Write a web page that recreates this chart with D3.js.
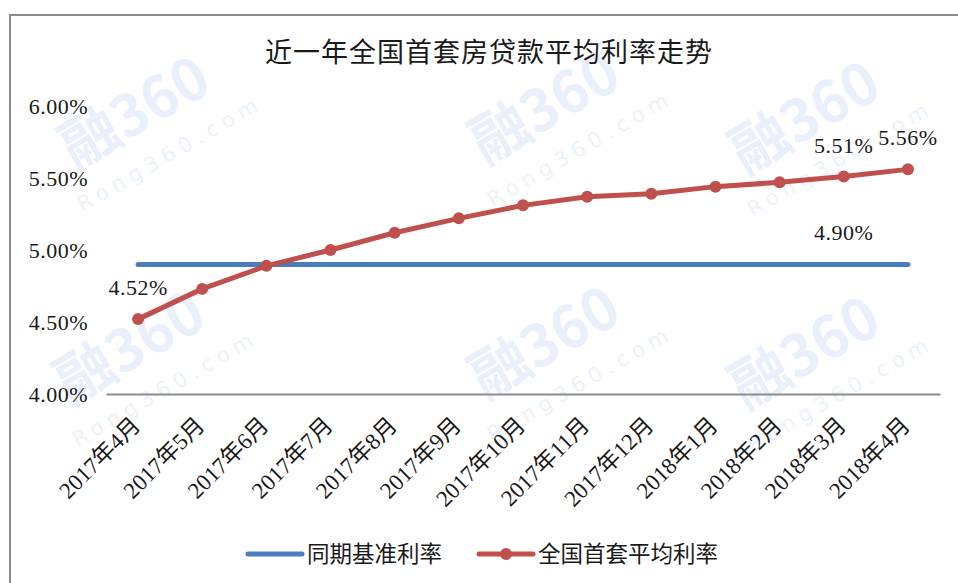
<!DOCTYPE html>
<html>
<head>
  <meta charset='utf-8' />
  <title>近一年全国首套房贷款平均利率走势</title>
  <style>
    html, body { margin: 0; padding: 0; background: #fff; }
    svg { display: block; }
  </style>
</head>
<body>
<div id="chart"></div>
<script src="https://d3js.org/d3.v7.min.js"></script>
<script>
// chart data
const months = ['2017年4月', '2017年5月', '2017年6月', '2017年7月', '2017年8月', '2017年9月',
  '2017年10月', '2017年11月', '2017年12月', '2018年1月', '2018年2月', '2018年3月', '2018年4月']
const baseRate = [4.90, 4.90, 4.90, 4.90, 4.90, 4.90, 4.90, 4.90, 4.90, 4.90, 4.90, 4.90, 4.90]
const avgRate = [4.52, 4.73, 4.89, 5.00, 5.12, 5.22, 5.31, 5.37, 5.39, 5.44, 5.47, 5.51, 5.56]
const yTicks = [4.00, 4.50, 5.00, 5.50, 6.00]
const seriesNames = ['同期基准利率', '全国首套平均利率']

const width = 958
const height = 583
const blue = '#4a7ebb'
const red = '#c0504d'
const numFont = '"Liberation Serif", "Noto Sans CJK SC", serif'
const cjkFont = '"Noto Sans CJK SC", "Liberation Serif", sans-serif'

const svg = d3.select('#chart').append('svg')
  .attr('width', width)
  .attr('height', height)

// faint watermark tiles (kept inside the picture)
const wm = svg.append('g')
const tiles = [[145, 130], [555, 125], [815, 135], [140, 365], [555, 360], [815, 370]]
tiles.forEach(function(t) {
  const g = wm.append('g').attr('transform', 'translate(' + t[0] + ',' + t[1] + ') rotate(-30)')
  g.append('text')
    .attr('x', 0).attr('y', 0)
    .attr('text-anchor', 'middle')
    .attr('font-family', cjkFont)
    .attr('font-weight', 'bold')
    .attr('font-size', 58)
    .attr('fill', '#e9f0fb')
    .text('融360')
  g.append('text')
    .attr('x', 10).attr('y', 40)
    .attr('text-anchor', 'middle')
    .attr('font-family', '"DejaVu Sans", sans-serif')
    .attr('font-size', 21)
    .attr('letter-spacing', 6)
    .attr('fill', '#ebf2fb')
    .text('Rong360.com')
})

// outer frame
svg.append('rect')
  .attr('x', 10).attr('y', 15)
  .attr('width', 960).attr('height', 600)
  .attr('fill', 'none')
  .attr('stroke', '#8a8a8a')
  .attr('stroke-width', 2)

// title
svg.append('text')
  .attr('x', 489).attr('y', 62)
  .attr('text-anchor', 'middle')
  .attr('font-family', cjkFont)
  .attr('font-size', 27)
  .attr('letter-spacing', 1)
  .attr('fill', '#1a1a1a')
  .text('近一年全国首套房贷款平均利率走势')

const x = d3.scaleBand().domain(months).range([106, 940])
const y = d3.scaleLinear().domain([4, 6]).range([394, 106])
const cx = d => x(d) + x.bandwidth() / 2

// y axis (labels only)
const yAxis = svg.append('g')
  .attr('transform', 'translate(106,0)')
  .call(d3.axisLeft(y).tickValues(yTicks).tickSize(0).tickPadding(18)
    .tickFormat(d => d.toFixed(2) + '%'))
yAxis.select('.domain').remove()
yAxis.selectAll('text')
  .attr('font-family', numFont)
  .attr('font-size', 22)
  .attr('letter-spacing', 0.5)
  .attr('fill', '#1a1a1a')

// x axis
const xAxis = svg.append('g')
  .attr('transform', 'translate(0,394)')
  .call(d3.axisBottom(x).tickSize(0).tickSizeOuter(0))
xAxis.select('.domain')
  .attr('stroke', '#8c8c8c')
  .attr('stroke-width', 2)
xAxis.selectAll('text')
  .attr('x', 0).attr('y', 0).attr('dy', '0.35em')
  .attr('transform', 'translate(-2,27) rotate(-45)')
  .attr('text-anchor', 'end')
  .attr('font-family', numFont)
  .attr('font-size', 23)
  .attr('fill', '#1a1a1a')

// lines
const line = d3.line().x((d, i) => cx(months[i])).y(d => y(d))

svg.append('path')
  .datum(baseRate)
  .attr('d', line)
  .attr('fill', 'none')
  .attr('stroke', blue)
  .attr('stroke-width', 5)
  .attr('stroke-linecap', 'round')

svg.append('path')
  .datum(avgRate)
  .attr('d', line)
  .attr('fill', 'none')
  .attr('stroke', red)
  .attr('stroke-width', 5)
  .attr('stroke-linecap', 'round')
  .attr('stroke-linejoin', 'round')

svg.append('g').selectAll('circle')
  .data(avgRate)
  .join('circle')
  .attr('cx', (d, i) => cx(months[i]))
  .attr('cy', d => y(d))
  .attr('r', 6)
  .attr('fill', red)

// data labels
const labels = [
  { i: 0, v: avgRate[0] },
  { i: 11, v: avgRate[11] },
  { i: 12, v: avgRate[12] },
  { i: 11, v: baseRate[11] }
]
svg.append('g').selectAll('text')
  .data(labels)
  .join('text')
  .attr('x', d => cx(months[d.i]))
  .attr('y', d => y(d.v) - 24)
  .attr('text-anchor', 'middle')
  .attr('font-family', numFont)
  .attr('font-size', 22)
  .attr('letter-spacing', 0.5)
  .attr('fill', '#1a1a1a')
  .text(d => d.v.toFixed(2) + '%')

// legend
const legend = svg.append('g').attr('transform', 'translate(0,554)')
const items = [
  { name: seriesNames[0], color: blue, x0: 248, marker: false },
  { name: seriesNames[1], color: red, x0: 479, marker: true }
]
items.forEach(function(it) {
  legend.append('line')
    .attr('x1', it.x0).attr('x2', it.x0 + 54)
    .attr('y1', 0).attr('y2', 0)
    .attr('stroke', it.color)
    .attr('stroke-width', 5)
    .attr('stroke-linecap', 'round')
  if (it.marker) {
    legend.append('circle')
      .attr('cx', it.x0 + 27).attr('cy', 0).attr('r', 6)
      .attr('fill', it.color)
  }
  legend.append('text')
    .attr('x', it.x0 + 59).attr('y', 0)
    .attr('dy', '0.35em')
    .attr('font-family', cjkFont)
    .attr('font-size', 22.5)
    .attr('fill', '#1a1a1a')
    .text(it.name)
})
</script>
</body>
</html>
